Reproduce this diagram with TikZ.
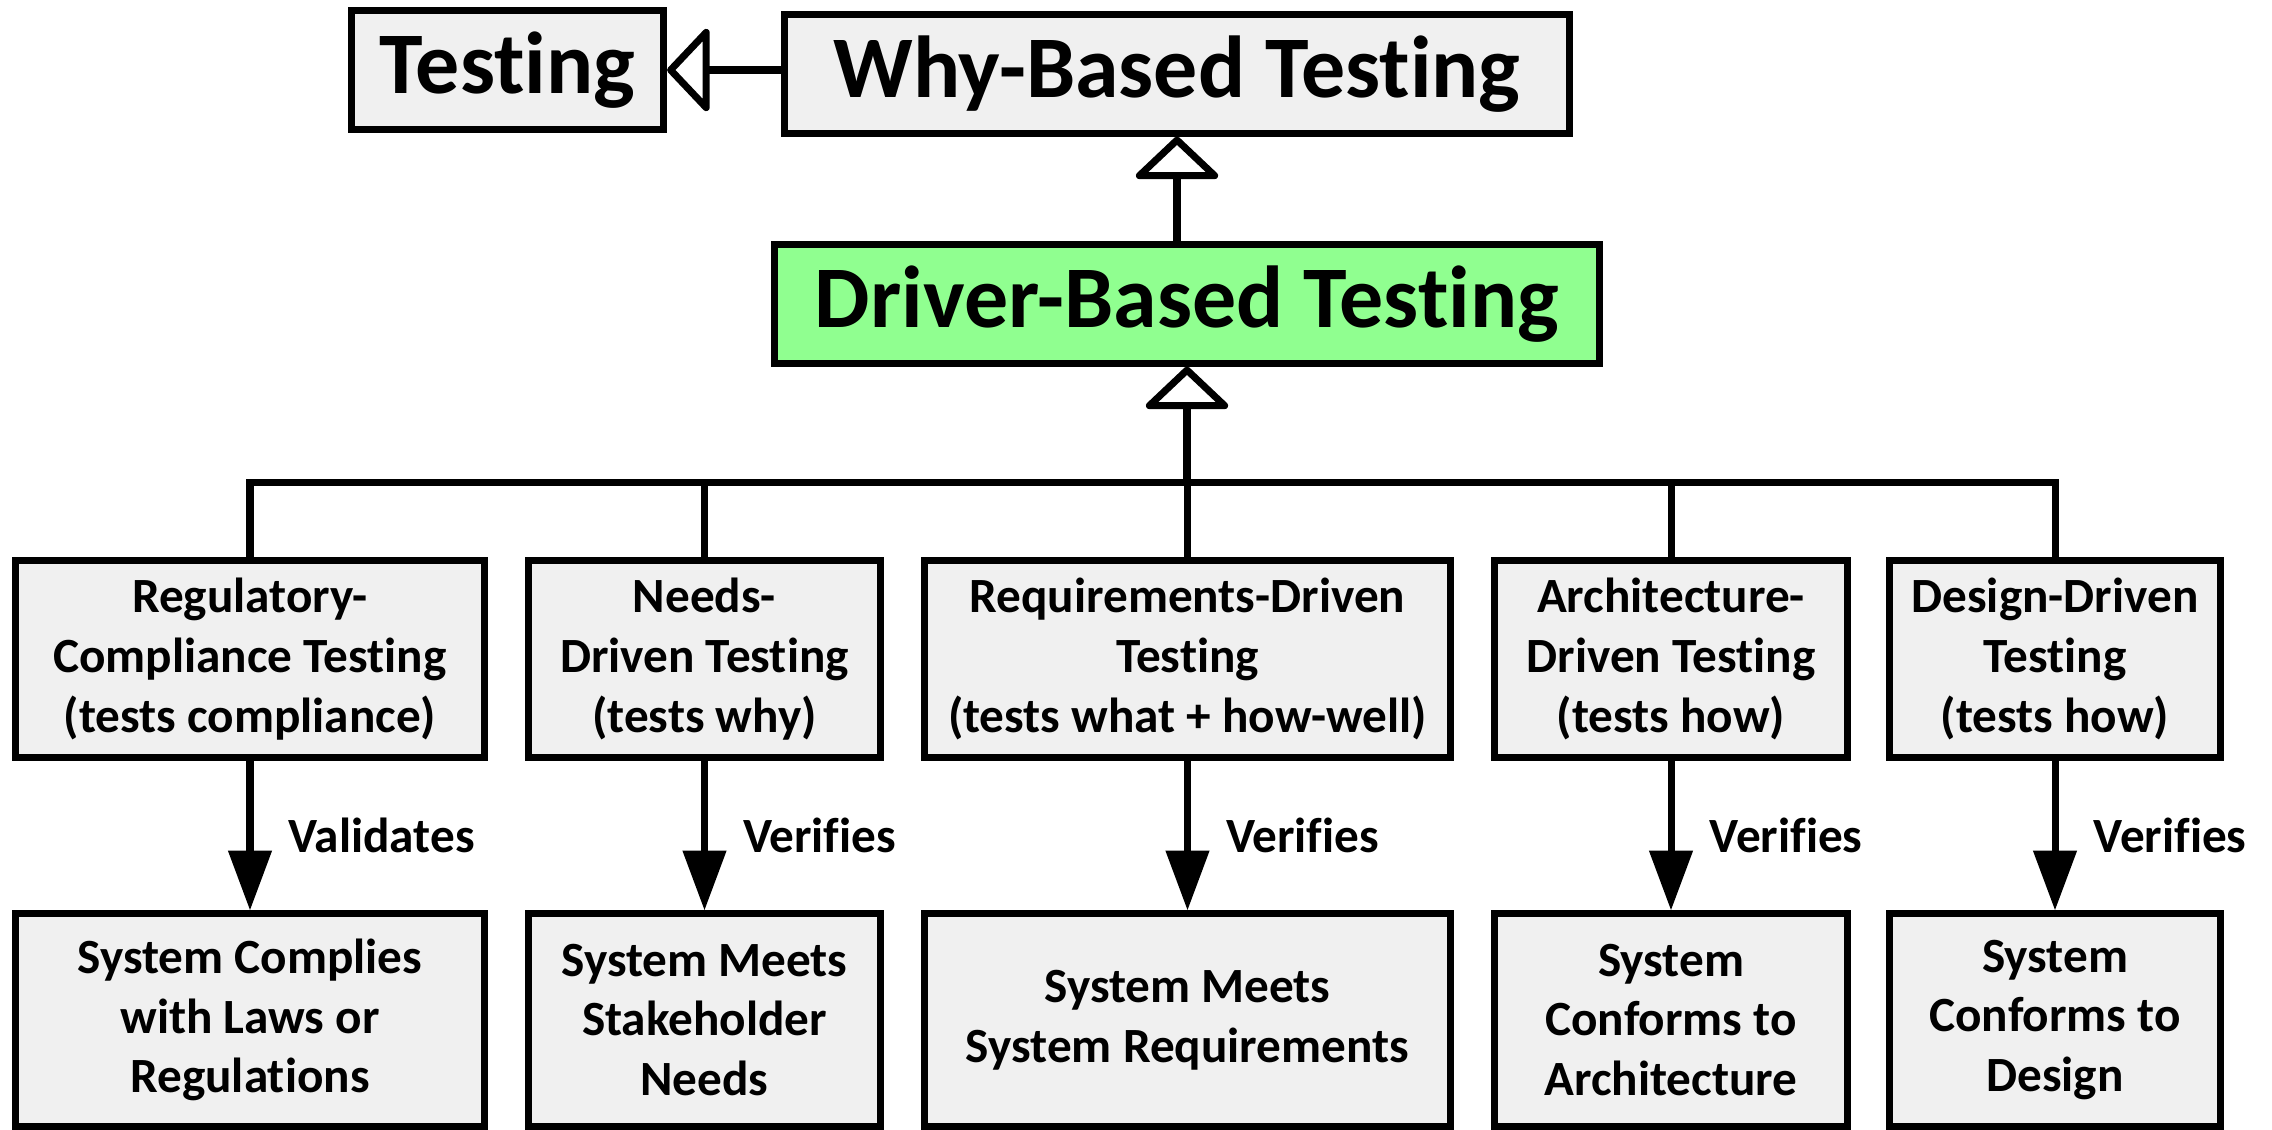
\documentclass[tikz,border=0pt]{standalone}
\usepackage{fontspec}
\setmainfont{Carlito}[Ligatures=CommonOff]
\usetikzlibrary{arrows.meta,positioning}
\definecolor{boxgray}{HTML}{F0F0F0}
\definecolor{drvgreen}{HTML}{90FF90}

\begin{document}
\begin{tikzpicture}
	[x=0.01cm,y=-0.01cm,line width=2pt,
	every node/.style={shape=rectangle,draw,line width=2pt,fill=boxgray,inner sep=0pt,align=center,font=\bfseries\fontsize{14}{17}\selectfont},
	big/.style={font=\bfseries\fontsize{25}{30}\selectfont,minimum height=1.18cm},
	kind/.style={minimum height=1.96cm},
	res/.style={minimum height=2.12cm},
	lbl/.style={draw=none,fill=none,anchor=west,xshift=0.35cm},
	gen/.style={-{Triangle[fill=white,length=12.5pt,width=26pt,round]}},
	vfy/.style={-{Triangle[length=17pt,width=12pt]}}]
	\useasboundingbox (0,0) rectangle (2272,1129);

	% top of the hierarchy
	\node[big,minimum width=3.12cm] (tst) at (507.5,70) {Testing};
	\node[big,minimum width=7.84cm] (why) at (1177,74) {Why-Based Testing};
	\node[big,minimum width=8.25cm,fill=drvgreen] (drv) at (1187,304) {Driver-Based Testing};

	% kinds of driver-based testing
	\node[kind,minimum width=4.68cm] (reg) at (250,659) {Regulatory-\\Compliance Testing\\(tests compliance)};
	\node[kind,minimum width=3.51cm] (need) at (704.5,659) {Needs-\\Driven Testing\\(tests why)};
	\node[kind,minimum width=5.25cm] (req) at (1187.5,659) {Requirements-Driven\\Testing\\(tests what + how-well)};
	\node[kind,minimum width=3.52cm] (arch) at (1671,659) {Architecture-\\Driven Testing\\(tests how)};
	\node[kind,minimum width=3.30cm] (des) at (2055,659) {Design-Driven\\Testing\\(tests how)};

	% what each one checks
	\node[res,minimum width=4.68cm] (cmp) at (250,1020) {System Complies\\with Laws or\\Regulations};
	\node[res,minimum width=3.51cm] (meet) at (704.5,1020) {System Meets\\Stakeholder\\Needs};
	\node[res,minimum width=5.25cm] (sreq) at (1187.5,1020) {System Meets\\System Requirements};
	\node[res,minimum width=3.52cm] (conf) at (1671,1020) {System\\Conforms to\\Architecture};
	\node[res,minimum width=3.30cm] (cdes) at (2055,1020) {System\\Conforms to\\Design};

	\coordinate (bus) at (1187,482);
	\draw[gen] (why.west |- tst.east) -- (tst.east);
	\draw[gen] (drv.north -| why.south) -- (why.south);
	\draw[gen] (bus) -- (drv.south);
	\draw \foreach \n in {reg,need,req,arch,des} {(\n.north) |- (bus)};
	\path
	\foreach \startNode/\endNode/\how in {reg/cmp/Validates,need/meet/Verifies,req/sreq/Verifies,arch/conf/Verifies,des/cdes/Verifies}
	{
		(\startNode) edge[vfy] node[lbl] {\how} (\endNode)
	};
\end{tikzpicture}
\end{document}
